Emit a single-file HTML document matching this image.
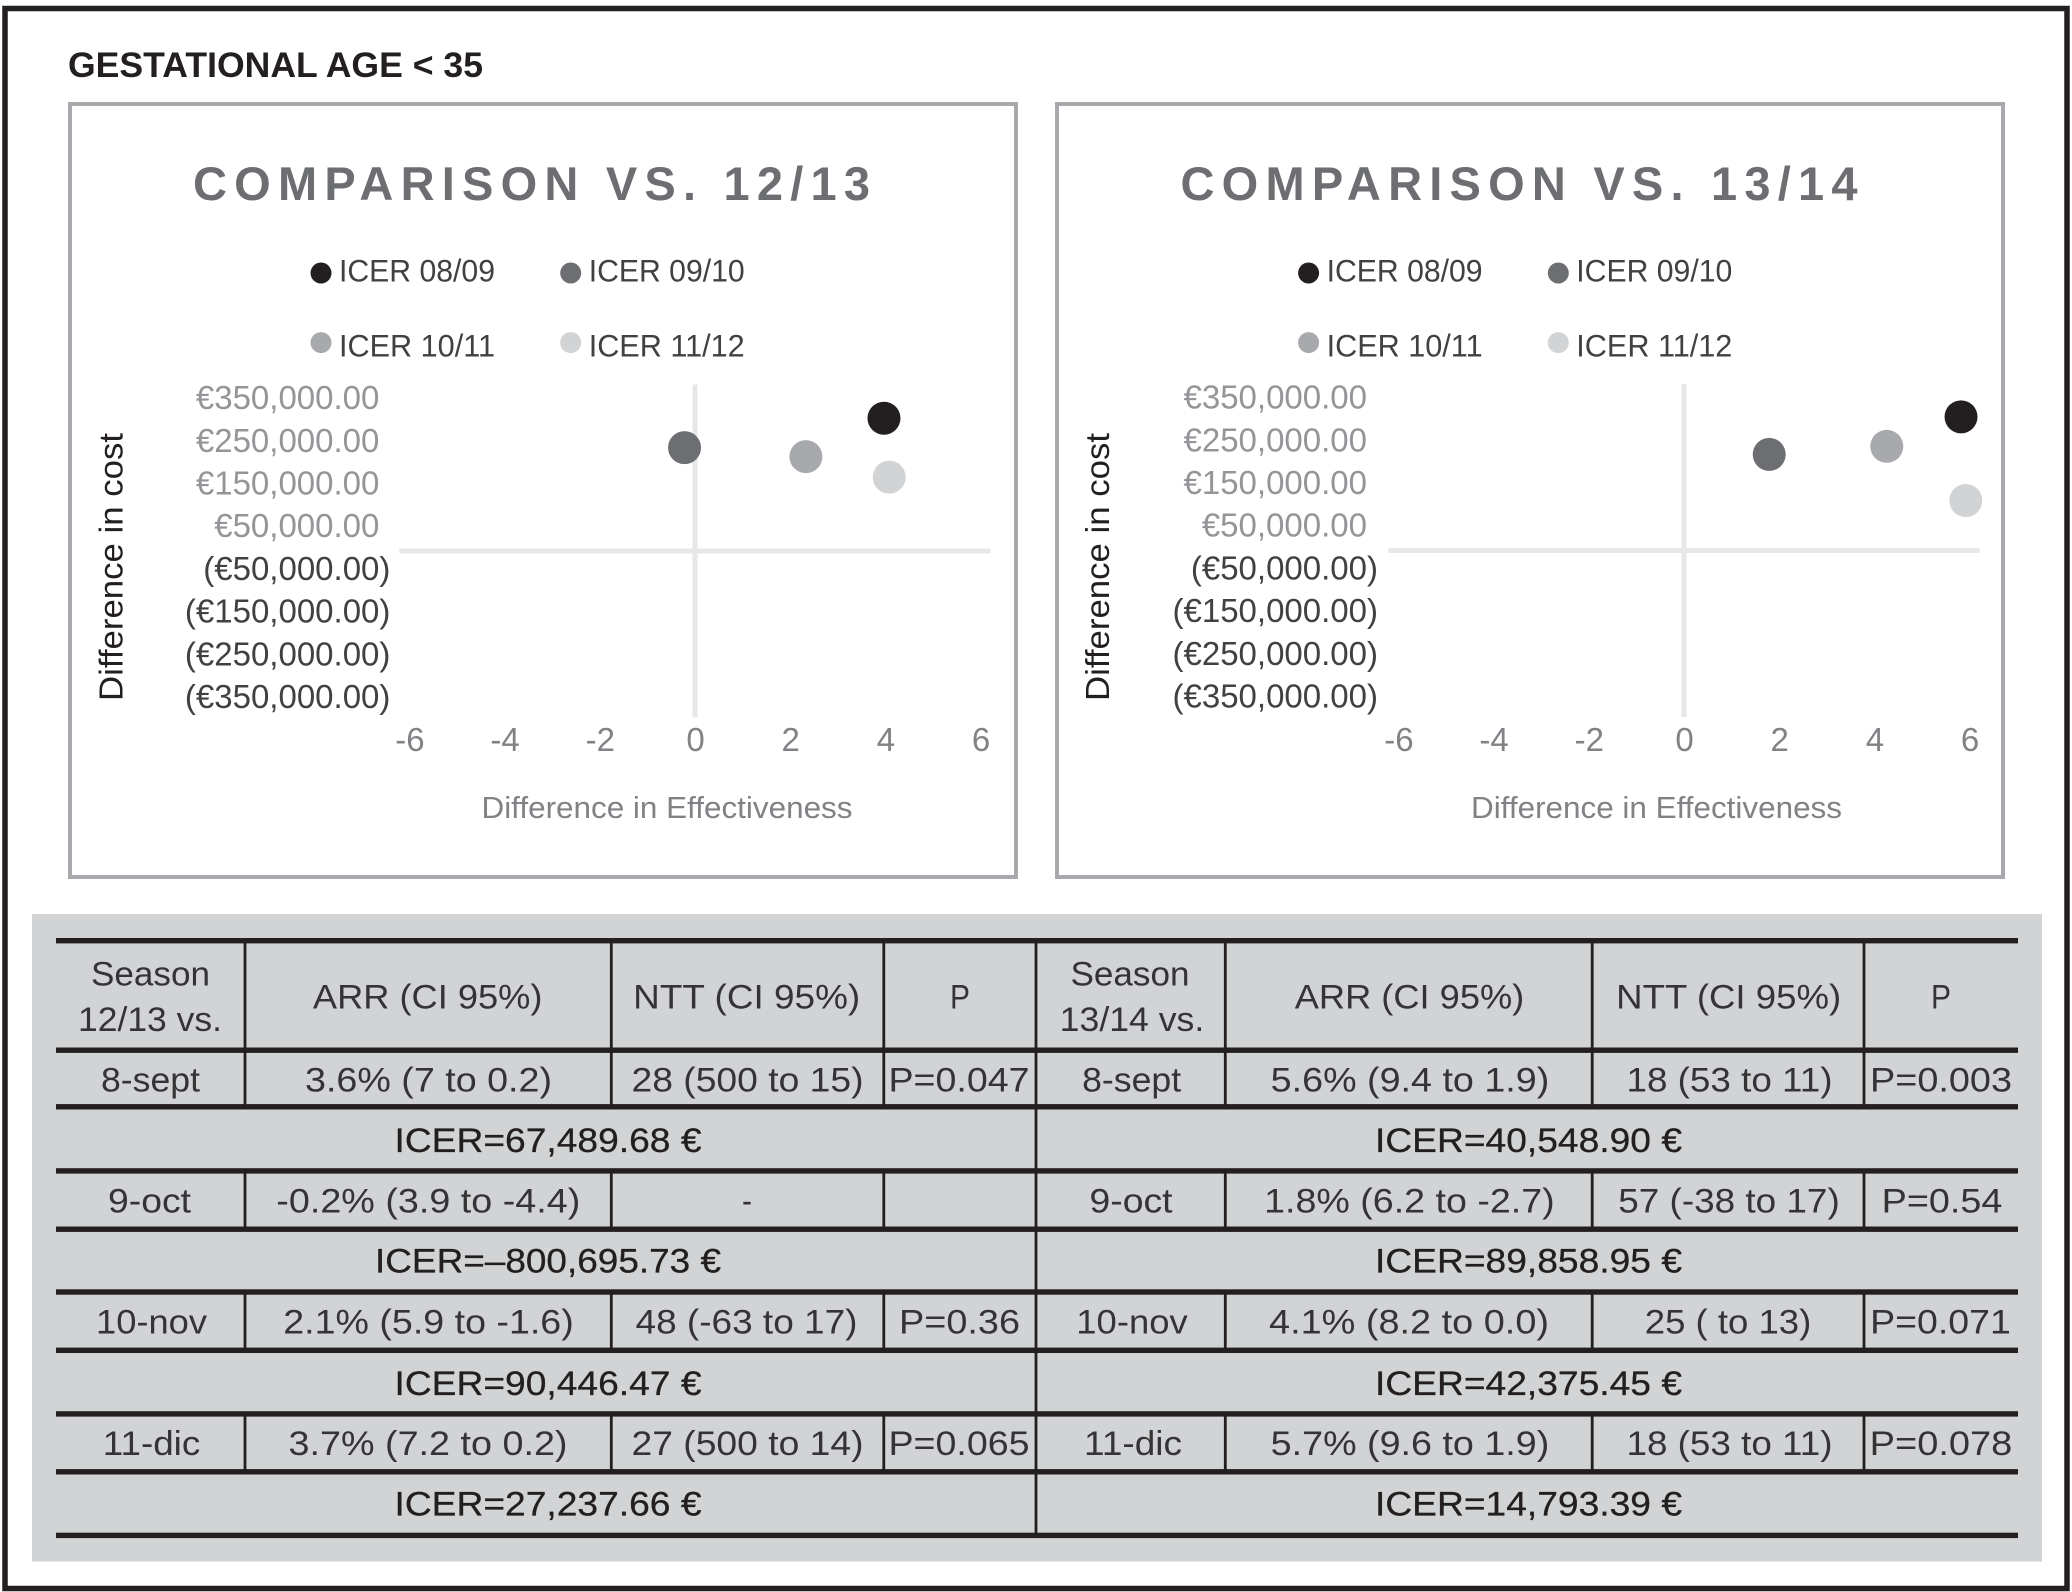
<!DOCTYPE html>
<html lang="en">
<head>
<meta charset="utf-8">
<title>Gestational age &lt; 35</title>
<style>
html,body{margin:0;padding:0;background:#fff;}
svg{display:block;font-family:"Liberation Sans",sans-serif;}
.c{text-anchor:middle;font-size:34.5px;fill:#343436;}
.i{text-anchor:middle;font-size:34.5px;fill:#231f20;stroke:#231f20;stroke-width:0.3px;}
</style>
</head>
<body>
<svg id="figure" width="2072" height="1592" viewBox="0 0 2072 1592" xmlns="http://www.w3.org/2000/svg">
<rect x="5" y="8.5" width="2062" height="1580" fill="#fff" stroke="#231f20" stroke-width="5.5"/>
<text x="68" y="77" font-size="35" font-weight="bold" fill="#231f20" textLength="415" lengthAdjust="spacingAndGlyphs">GESTATIONAL AGE &lt; 35</text>

<g id="chart-left">
<rect x="70" y="104" width="946" height="773" fill="#fff" stroke="#a7a9ac" stroke-width="4"/>
<text x="193" y="200" font-size="47" font-weight="bold" fill="#6d6e71" textLength="677" lengthAdjust="spacing">COMPARISON VS. 12/13</text>
<text transform="translate(122.7,567) rotate(-90)" text-anchor="middle" font-size="33" fill="#231f20" textLength="268" lengthAdjust="spacingAndGlyphs">Difference in cost</text>
<text x="481.5" y="818" font-size="31" fill="#808285" textLength="371" lengthAdjust="spacingAndGlyphs">Difference in Effectiveness</text>
</g>

<g id="chart-right">
<rect x="1057" y="104" width="946" height="773" fill="#fff" stroke="#a7a9ac" stroke-width="4"/>
<text x="1180.5" y="200" font-size="47" font-weight="bold" fill="#6d6e71" textLength="677" lengthAdjust="spacing">COMPARISON VS. 13/14</text>
<text transform="translate(1109,567) rotate(-90)" text-anchor="middle" font-size="33" fill="#231f20" textLength="268" lengthAdjust="spacingAndGlyphs">Difference in cost</text>
<text x="1471" y="818" font-size="31" fill="#808285" textLength="371" lengthAdjust="spacingAndGlyphs">Difference in Effectiveness</text>
</g>

<g>
<rect x="32" y="914" width="2010" height="647.5" fill="#d1d3d4"/>
<g fill="#231f20">
<rect x="56" y="938" width="1962" height="5.4"/>
<rect x="56" y="1047.5" width="1962" height="5.4"/>
<rect x="56" y="1104.1" width="1962" height="5.4"/>
<rect x="56" y="1168.2" width="1962" height="5.4"/>
<rect x="56" y="1226.5" width="1962" height="5.4"/>
<rect x="56" y="1289.3" width="1962" height="5.4"/>
<rect x="56" y="1347.6" width="1962" height="5.4"/>
<rect x="56" y="1411.2" width="1962" height="5.4"/>
<rect x="56" y="1469.1" width="1962" height="5.4"/>
<rect x="56" y="1532.7" width="1962" height="5.4"/>
<rect x="1034.6" y="940" width="2.8" height="596"/>
<path d="M245 940V1107M611.3 940V1107M883.8 940V1107M1225.3 940V1107M1592.2 940V1107M1864 940V1107M245 1171V1229M611.3 1171V1229M883.8 1171V1229M1225.3 1171V1229M1592.2 1171V1229M1864 1171V1229M245 1292V1350M611.3 1292V1350M883.8 1292V1350M1225.3 1292V1350M1592.2 1292V1350M1864 1292V1350M245 1414V1472M611.3 1414V1472M883.8 1414V1472M1225.3 1414V1472M1592.2 1414V1472M1864 1414V1472" stroke="#231f20" stroke-width="2.8" fill="none"/>
</g>

<g transform="translate(0,-0.5)">
<text class="c" x="150.5" y="986" textLength="119" lengthAdjust="spacingAndGlyphs">Season</text>
<text class="c" x="150" y="1031.7" textLength="144" lengthAdjust="spacingAndGlyphs">12/13 vs.</text>
<text class="c" x="427.7" y="1009" textLength="229.5" lengthAdjust="spacingAndGlyphs">ARR (CI 95%)</text>
<text class="c" x="746.7" y="1009" textLength="227" lengthAdjust="spacingAndGlyphs">NTT (CI 95%)</text>
<text class="c" x="960" y="1009" textLength="20" lengthAdjust="spacingAndGlyphs">P</text>

<text class="c" x="150.5" y="1092" textLength="99" lengthAdjust="spacingAndGlyphs">8-sept</text>
<text class="c" x="428.5" y="1092" textLength="247" lengthAdjust="spacingAndGlyphs">3.6% (7 to 0.2)</text>
<text class="c" x="747.5" y="1092" textLength="232" lengthAdjust="spacingAndGlyphs">28 (500 to 15)</text>
<text class="c" x="959" y="1092" textLength="141" lengthAdjust="spacingAndGlyphs">P=0.047</text>
<text class="i" x="548" y="1152.3" textLength="307" lengthAdjust="spacingAndGlyphs">ICER=67,489.68 €</text>

<text class="c" x="149.5" y="1212.9" textLength="83" lengthAdjust="spacingAndGlyphs">9-oct</text>
<text class="c" x="428.3" y="1212.9" textLength="304" lengthAdjust="spacingAndGlyphs">-0.2% (3.9 to -4.4)</text>
<text class="c" x="747" y="1212.9" textLength="10" lengthAdjust="spacingAndGlyphs">-</text>
<text class="i" x="548" y="1272.9" textLength="346" lengthAdjust="spacingAndGlyphs">ICER=–800,695.73 €</text>

<text class="c" x="151.5" y="1334" textLength="111" lengthAdjust="spacingAndGlyphs">10-nov</text>
<text class="c" x="428.5" y="1334" textLength="290.5" lengthAdjust="spacingAndGlyphs">2.1% (5.9 to -1.6)</text>
<text class="c" x="746.5" y="1334" textLength="222" lengthAdjust="spacingAndGlyphs">48 (-63 to 17)</text>
<text class="c" x="959.5" y="1334" textLength="121" lengthAdjust="spacingAndGlyphs">P=0.36</text>
<text class="i" x="548" y="1395.3" textLength="307" lengthAdjust="spacingAndGlyphs">ICER=90,446.47 €</text>

<text class="c" x="151.5" y="1455.5" textLength="97.5" lengthAdjust="spacingAndGlyphs">11-dic</text>
<text class="c" x="428" y="1455.5" textLength="279" lengthAdjust="spacingAndGlyphs">3.7% (7.2 to 0.2)</text>
<text class="c" x="747.5" y="1455.5" textLength="232" lengthAdjust="spacingAndGlyphs">27 (500 to 14)</text>
<text class="c" x="959" y="1455.5" textLength="141" lengthAdjust="spacingAndGlyphs">P=0.065</text>
<text class="i" x="548" y="1515.9" textLength="307" lengthAdjust="spacingAndGlyphs">ICER=27,237.66 €</text>
</g>

<g transform="translate(0,-0.5)">
<text class="c" x="1130" y="986" textLength="119" lengthAdjust="spacingAndGlyphs">Season</text>
<text class="c" x="1132" y="1031.7" textLength="144.6" lengthAdjust="spacingAndGlyphs">13/14 vs.</text>
<text class="c" x="1409.5" y="1009" textLength="229.5" lengthAdjust="spacingAndGlyphs">ARR (CI 95%)</text>
<text class="c" x="1728.7" y="1009" textLength="225" lengthAdjust="spacingAndGlyphs">NTT (CI 95%)</text>
<text class="c" x="1941" y="1009" textLength="20" lengthAdjust="spacingAndGlyphs">P</text>

<text class="c" x="1131.6" y="1092" textLength="99" lengthAdjust="spacingAndGlyphs">8-sept</text>
<text class="c" x="1410" y="1092" textLength="278.6" lengthAdjust="spacingAndGlyphs">5.6% (9.4 to 1.9)</text>
<text class="c" x="1729.5" y="1092" textLength="206" lengthAdjust="spacingAndGlyphs">18 (53 to 11)</text>
<text class="c" x="1941" y="1092" textLength="142" lengthAdjust="spacingAndGlyphs">P=0.003</text>
<text class="i" x="1528.5" y="1152.3" textLength="307" lengthAdjust="spacingAndGlyphs">ICER=40,548.90 €</text>

<text class="c" x="1131" y="1212.9" textLength="83" lengthAdjust="spacingAndGlyphs">9-oct</text>
<text class="c" x="1409.4" y="1212.9" textLength="290.5" lengthAdjust="spacingAndGlyphs">1.8% (6.2 to -2.7)</text>
<text class="c" x="1729" y="1212.9" textLength="221.5" lengthAdjust="spacingAndGlyphs">57 (-38 to 17)</text>
<text class="c" x="1942" y="1212.9" textLength="120.7" lengthAdjust="spacingAndGlyphs">P=0.54</text>
<text class="i" x="1528.5" y="1272.9" textLength="307" lengthAdjust="spacingAndGlyphs">ICER=89,858.95 €</text>

<text class="c" x="1132" y="1334" textLength="111.4" lengthAdjust="spacingAndGlyphs">10-nov</text>
<text class="c" x="1409" y="1334" textLength="280" lengthAdjust="spacingAndGlyphs">4.1% (8.2 to 0.0)</text>
<text class="c" x="1728" y="1334" textLength="166.5" lengthAdjust="spacingAndGlyphs">25 ( to 13)</text>
<text class="c" x="1940.5" y="1334" textLength="140.6" lengthAdjust="spacingAndGlyphs">P=0.071</text>
<text class="i" x="1528.5" y="1395.3" textLength="307" lengthAdjust="spacingAndGlyphs">ICER=42,375.45 €</text>

<text class="c" x="1133" y="1455.5" textLength="98" lengthAdjust="spacingAndGlyphs">11-dic</text>
<text class="c" x="1410" y="1455.5" textLength="278.6" lengthAdjust="spacingAndGlyphs">5.7% (9.6 to 1.9)</text>
<text class="c" x="1729.5" y="1455.5" textLength="206" lengthAdjust="spacingAndGlyphs">18 (53 to 11)</text>
<text class="c" x="1941" y="1455.5" textLength="142.6" lengthAdjust="spacingAndGlyphs">P=0.078</text>
<text class="i" x="1528.5" y="1515.9" textLength="307" lengthAdjust="spacingAndGlyphs">ICER=14,793.39 €</text>
</g>
</g>
</svg>

<script>
// Chart data
const seriesNames = ['ICER 08/09', 'ICER 09/10', 'ICER 10/11', 'ICER 11/12'];
const seriesColors = ['#231f20', '#6d6e71', '#a7a9ac', '#d1d3d4'];
const xTickValues = [-6, -4, -2, 0, 2, 4, 6];
const yTickValues = [350000, 250000, 150000, 50000, -50000, -150000, -250000, -350000];
const yTickLabels = ['€350,000.00', '€250,000.00', '€150,000.00', '€50,000.00', '(€50,000.00)', '(€150,000.00)', '(€250,000.00)', '(€350,000.00)'];
const effect1213 = [3.97, -0.22, 2.33, 4.08];
const cost1213 = [311000, 242000, 221000, 173000];
const effect1314 = [5.82, 1.79, 4.26, 5.92];
const cost1314 = [313000, 225000, 244000, 117000];

const NS = 'http://www.w3.org/2000/svg';

function drawChart(group, effects, costs, o) {
  const sx = v => o.zeroX + v * 47.6;
  const sy = v => o.zeroY - v * 0.000427;

  // axis lines
  const hAxis = document.createElementNS(NS, 'line');
  
  
  hAxis.setAttribute('x1', sx(-6) - 10);
  hAxis.setAttribute('x2', sx(6) + 10);
  hAxis.setAttribute('y1', sy(0));
  hAxis.setAttribute('y2', sy(0));
  hAxis.setAttribute('stroke', '#e6e7e8');
  hAxis.setAttribute('stroke-width', '5');
  group.appendChild(hAxis);

  const vAxis = document.createElementNS(NS, 'line');
  
  
  vAxis.setAttribute('x1', sx(0));
  vAxis.setAttribute('x2', sx(0));
  vAxis.setAttribute('y1', sy(390000));
  vAxis.setAttribute('y2', sy(-390000));
  vAxis.setAttribute('stroke', '#e6e7e8');
  vAxis.setAttribute('stroke-width', '5');
  group.appendChild(vAxis);

  // x tick labels
  xTickValues.forEach(v => {
    const t = document.createElementNS(NS, 'text');
    
    
    t.setAttribute('x', sx(v) + 0.5);
    t.setAttribute('y', 751);
    t.setAttribute('text-anchor', 'middle');
    t.setAttribute('font-size', '33');
    t.setAttribute('fill', '#808285');
    t.textContent = String(v);
    group.appendChild(t);
  });

  // y tick labels
  yTickValues.forEach((v, i) => {
    const t = document.createElementNS(NS, 'text');
    
    
    t.setAttribute('x', v > 0 ? o.labelRight : o.labelRight + 11);
    t.setAttribute('y', sy(v) + 7.5);
    t.setAttribute('text-anchor', 'end');
    t.setAttribute('font-size', '33');
    t.setAttribute('fill', v > 0 ? '#939598' : '#414042');
    t.textContent = yTickLabels[i];
    group.appendChild(t);
  });

  // legend
  seriesNames.forEach((name, i) => {
    const col = i % 2;
    const row = Math.floor(i / 2);
    const dot = document.createElementNS(NS, 'circle');
    
    
    dot.setAttribute('cx', o.legendX + col * 249.7);
    dot.setAttribute('cy', 273 + row * 69.6);
    dot.setAttribute('r', '10.5');
    dot.setAttribute('fill', seriesColors[i]);
    group.appendChild(dot);

    const label = document.createElementNS(NS, 'text');
    
    
    label.setAttribute('x', o.legendX + 18 + col * 249.7);
    label.setAttribute('y', 281.5 + row * 75);
    label.setAttribute('font-size', '31.5');
    label.setAttribute('fill', '#414042');
    label.setAttribute('textLength', '156');
    label.setAttribute('lengthAdjust', 'spacingAndGlyphs');
    label.textContent = name;
    group.appendChild(label);
  });

  // points
  effects.forEach((e, i) => {
    const p = document.createElementNS(NS, 'circle');
    
    
    p.setAttribute('cx', sx(e));
    p.setAttribute('cy', sy(costs[i]));
    p.setAttribute('r', '16.5');
    p.setAttribute('fill', seriesColors[i]);
    group.appendChild(p);
  });
}

drawChart(document.getElementById('chart-left'), effect1213, cost1213, {zeroX: 695, zeroY: 551, labelRight: 379.4, legendX: 321});
drawChart(document.getElementById('chart-right'), effect1314, cost1314, {zeroX: 1684, zeroY: 550.5, labelRight: 1367, legendX: 1308.6});
</script>
</body>
</html>
